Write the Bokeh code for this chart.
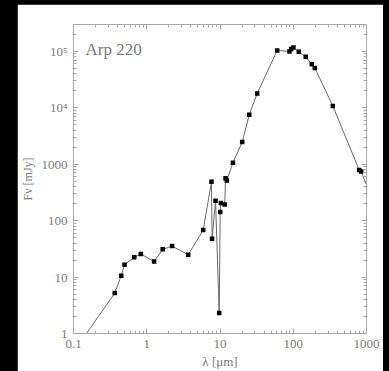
from bokeh.plotting import figure
from bokeh.models import (LogAxis, FixedTicker, Label, Column, Range1d)
from bokeh.embed import file_html
from bokeh.resources import INLINE

# Spectral energy distribution of Arp 220: wavelength (micron) vs flux density (mJy)
wavelength = [0.366, 0.448, 0.497, 0.675, 0.83, 1.26, 1.65, 2.22, 3.68, 5.9,
              7.65, 7.8, 8.69, 9.75, 10.07, 10.3, 11.6, 11.9, 12.4, 15.0,
              20.1, 25.1, 32.2, 60.4, 88.9, 93.8, 100.7, 119.0, 148.0, 179.0,
              197.0, 347.0, 795.0, 845.0]
flux = [5.2, 10.6, 16.6, 22.4, 25.6, 18.8, 31.0, 35.4, 24.9, 68.3,
        488.0, 47.6, 226.0, 2.31, 142.0, 205.0, 194.0, 565.0, 514.0, 1067.0,
        2468.0, 7565.0, 17990.0, 104200.0, 100000.0, 110000.0, 117500.0, 98700.0, 80600.0, 59000.0,
        50800.0, 10760.0, 794.0, 741.0]

# the connecting curve runs past both ends of the plotted window
curve_start_wl, curve_start_flux = [0.1], [0.47]
curve_end_wl, curve_end_flux = [1300.0], [185.0]

x_ticks = [0.1, 1, 10, 100, 1000]
x_tick_labels = ["0.1", "1", "10", "100", "1000"]
y_ticks = [1, 10, 100, 1000, 10000, 100000]
y_tick_labels = ["1", "10", "100", "1000", "10\u2074", "10\u2075"]

AXIS_GREY = "#a8a8a8"
TEXT_GREY = "#7a7a7a"
FONT = "Liberation Serif"

p = figure(width=366, height=367, x_axis_type="log", y_axis_type="log",
           x_range=Range1d(0.1, 1000), y_range=Range1d(1, 3.0e5),
           output_backend="svg", toolbar_location=None,
           min_border_left=56, min_border_right=17,
           min_border_top=20, min_border_bottom=38)
p.margin = (4, 6, 0, 17)
p.background_fill_color = "white"
p.border_fill_color = "white"
p.outline_line_color = AXIS_GREY
p.grid.visible = False

x_minor = [m * 10.0 ** k for k in range(-1, 3) for m in range(2, 10)]
y_minor = [m * 10.0 ** k for k in range(0, 6) for m in range(2, 10)]
xt = FixedTicker(ticks=x_ticks, minor_ticks=x_minor)
yt = FixedTicker(ticks=y_ticks, minor_ticks=y_minor)


def style(ax, ticker, labels):
    ax.ticker = ticker
    ax.axis_line_color = AXIS_GREY
    ax.major_tick_line_color = AXIS_GREY
    ax.minor_tick_line_color = AXIS_GREY
    ax.major_tick_in = 5
    ax.major_tick_out = 0
    ax.minor_tick_in = 3
    ax.minor_tick_out = 0
    ax.major_label_overrides = {t: s for t, s in zip(ticker.ticks, labels)}
    ax.major_label_text_font = FONT
    ax.major_label_text_color = TEXT_GREY
    ax.major_label_text_font_size = "13px"
    ax.major_label_standoff = 6
    ax.axis_label_text_font = FONT
    ax.axis_label_text_font_style = "normal"
    ax.axis_label_text_color = TEXT_GREY


style(p.xaxis[0], xt, x_tick_labels)
style(p.yaxis[0], yt, y_tick_labels)
p.xaxis[0].axis_label = "\u03bb [\u03bcm]"
p.xaxis[0].axis_label_text_font_size = "13px"
p.xaxis[0].axis_label_standoff = 3
p.yaxis[0].axis_label = "F\u03bd [mJy]"
p.yaxis[0].axis_label_text_font_size = "12px"
p.yaxis[0].axis_label_standoff = 4

# mirrored tick marks on the top and right edges, without labels
top = LogAxis()
right = LogAxis()
style(top, xt, ["" for _ in x_ticks])
style(right, yt, ["" for _ in y_ticks])
for ax in (top, right):
    ax.major_label_standoff = 0
p.add_layout(top, "above")
p.add_layout(right, "right")

line_x = curve_start_wl + wavelength + curve_end_wl
line_y = curve_start_flux + flux + curve_end_flux
p.line(line_x, line_y, line_color="#6a6a6a", line_width=1)
p.scatter(wavelength, flux, marker="square", size=4.5,
          fill_color="black", line_color=None)

p.add_layout(Label(x=0.146, y=1.08e5, text="Arp 220", text_font=FONT,
                   text_font_size="17px", text_color=TEXT_GREY,
                   text_baseline="alphabetic"))

root = Column(children=[p], width=389, height=371,
              styles={"background-color": "black"})

open("out.html", "w").write(file_html(root, INLINE))
